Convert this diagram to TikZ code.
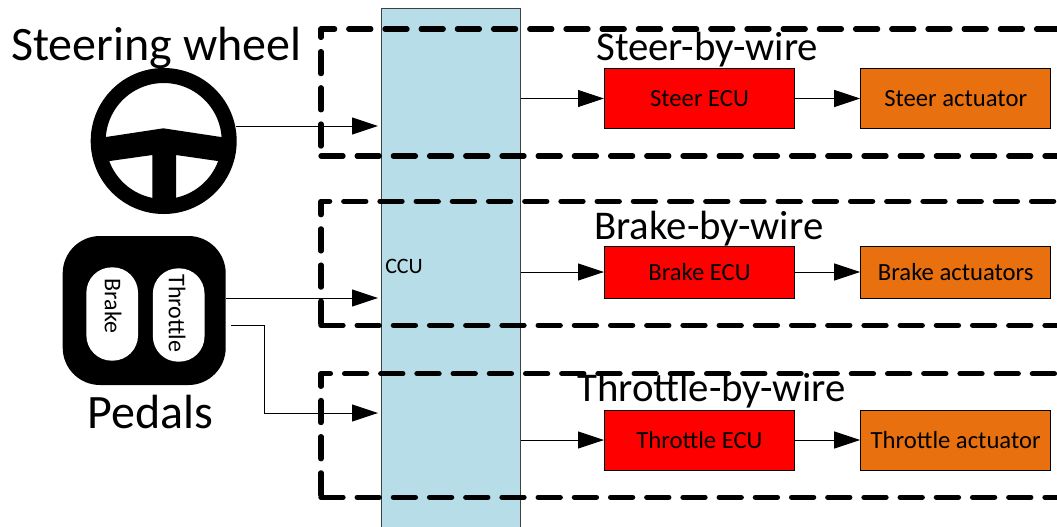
\documentclass[tikz,border=0pt]{standalone}
\usepackage{fontspec}
\setmainfont{Carlito}
\usetikzlibrary{arrows.meta}
\definecolor{ccublue}{RGB}{183,221,232}
\definecolor{actorange}{RGB}{233,112,14}
\tikzset{
	wire/.style={line width=0.75pt,-{Triangle[length=19.5pt,width=12.75pt]}},
	dashbox/.style={line width=4pt,line cap=round,line join=round,dash pattern=on 16.5pt off 10.65pt},
	ecubox/.style={draw=black,line width=0.75pt,fill=red,minimum width=142.5pt,inner sep=0pt,font=\fontsize{18.5pt}{18.5pt}\selectfont},
	actbox/.style={draw=black,line width=0.75pt,fill=actorange,minimum width=142.5pt,inner sep=0pt,font=\fontsize{18.5pt}{18.5pt}\selectfont},
	bigtext/.style={anchor=base west,inner sep=0pt,font=\fontsize{36pt}{36pt}\selectfont},
	midtext/.style={anchor=base west,inner sep=0pt,font=\fontsize{30.6pt}{30.6pt}\selectfont},
	padbox/.style={fill=white,minimum width=38.75pt,minimum height=70pt,rounded corners=19pt,inner sep=0pt},
	padtext/.style={rotate=-90,inner sep=0pt,font=\fontsize{18pt}{18pt}\selectfont}
}
\begin{document}
\begin{tikzpicture}[x=0.75pt,y=0.75pt,yscale=-1,xscale=1]
	\path [use as bounding box] (0,0) rectangle (1057,526);
	\clip (0,0) rectangle (1057,526);

	%Shape: CCU column
	\node (ccu) [draw=black!75,line width=0.75pt,fill=ccublue,minimum width=104.25pt,minimum height=400pt,inner sep=0pt] at (451,275) {};
	\node (ccutext) [anchor=base west,inner sep=0pt,font=\fontsize{16.5pt}{16.5pt}\selectfont] at (385,273) {CCU};

	%Dashed boxes
	\draw [dashbox] (321,156) -- (1059.5,156) -- (1059.5,29);
	\draw [dashbox,dash phase=19.65pt] (321,156) -- (321,29) -- (1059.5,29);
	\draw [dashbox] (321,325.3) -- (1059.5,325.3) -- (1059.5,201.3);
	\draw [dashbox,dash phase=25.65pt] (321,325.3) -- (321,201.3) -- (1059.5,201.3);
	\draw [dashbox] (321,497.3) -- (1059.5,497.3) -- (1059.5,373.7);
	\draw [dashbox,dash phase=25.35pt] (321,497.3) -- (321,373.7) -- (1059.5,373.7);

	%Shape: Steering wheel
	\node (wheel) [circle,draw=black,line width=11.25pt,minimum size=98.25pt,inner sep=0pt] at (163.7,141) {};
	\fill [black] (100,138) -- (106,137) -- (163.3,128.3) -- (221,137) -- (227,138) -- (223,162) -- (217.7,161) -- (176,155) -- (176,200) -- (152.3,200) -- (152.3,155) -- (109.7,161) -- (104,162) -- cycle;

	%Shape: Pedals
	\node (pedals) [fill=black,minimum width=122.25pt,minimum height=111.75pt,rounded corners=28pt,inner sep=0pt] at (144.2,310.5) {};
	\node (brakepad) [padbox] at (112.2,314) {};
	\node (throttlepad) [padbox] at (178.7,315) {};
	\node (braketext) [padtext] at (113,306) {Brake};
	\node (throttletext) [padtext] at (177,313.5) {Throttle};

	% Text Node
	\node (wheeltitle) [bigtext] at (11,60) {Steering wheel};
	\node (pedaltitle) [bigtext] at (87,428) {Pedals};
	\node (steertitle) [midtext] at (596,60) {Steer-by-wire};
	\node (braketitle) [midtext] at (594,239) {Brake-by-wire};
	\node (throttletitle) [midtext] at (577,401) {Throttle-by-wire};

	%ECU and actuator boxes
	\node (steerecu) [ecubox,minimum height=45pt] at (699.5,98.5) {Steer ECU};
	\node (brakeecu) [ecubox,minimum height=39pt] at (699.5,272) {Brake ECU};
	\node (throttleecu) [ecubox,minimum height=45pt] at (699.5,440) {Throttle ECU};
	\node (steeract) [actbox,minimum height=45pt] at (955.7,98.5) {Steer actuator};
	\node (brakeact) [actbox,minimum height=39pt] at (955.7,272) {Brake actuators};
	\node (throttleact) [actbox,minimum height=45pt] at (955.7,440) {Throttle actuator};

	%Straight Lines
	\coordinate (wheelout) at (236,126);
	\coordinate (pedalout) at (225.7,298);
	\coordinate (throttleout) at (231,325);
	\coordinate (throttlebend) at (264,413);
	\coordinate (ccusteer) at (378,126);
	\coordinate (ccubrake) at (378,298);
	\coordinate (ccuthrottle) at (378,413);
	\draw [wire] (wheelout) -- (ccusteer);
	\draw [wire] (pedalout) -- (ccubrake);
	\draw [wire] (throttleout) -| (throttlebend) -- (ccuthrottle);
	\draw [wire] (ccu.east |- steerecu) -- (steerecu);
	\draw [wire] (ccu.east |- brakeecu) -- (brakeecu);
	\draw [wire] (ccu.east |- throttleecu) -- (throttleecu);
	\draw [wire] (steerecu) -- (steeract);
	\draw [wire] (brakeecu) -- (brakeact);
	\draw [wire] (throttleecu) -- (throttleact);
\end{tikzpicture}
\end{document}
